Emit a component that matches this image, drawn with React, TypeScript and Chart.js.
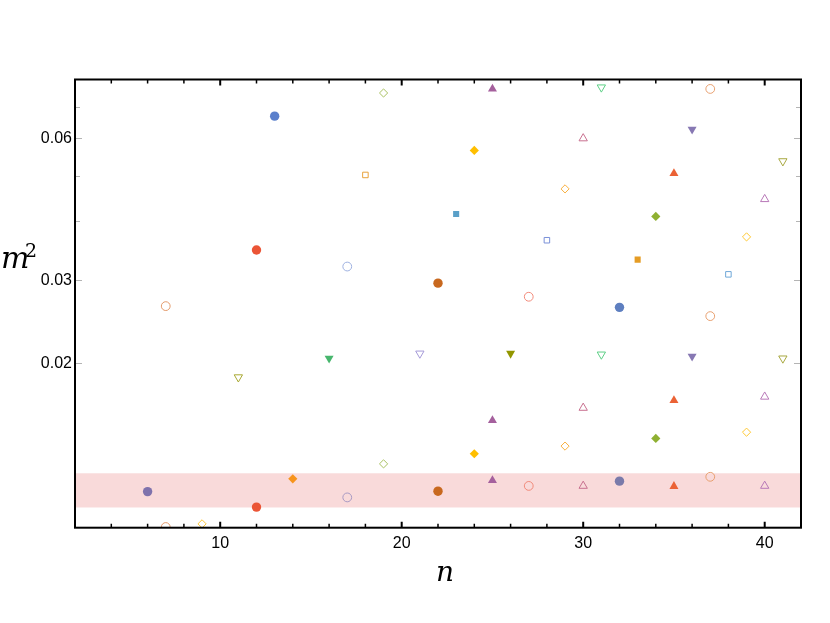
import React, { useEffect, useRef } from "react";
import { Chart, registerables } from "chart.js";

Chart.register(...registerables);

// ---- axes ----
const X_MIN = 2;
const X_MAX = 42;
const Y_MIN = 0.00897;
const Y_MAX = 0.08;
const X_MAJOR_TICKS = [10, 20, 30, 40];
const X_MINOR_TICKS = [4, 6, 8, 12, 14, 16, 18, 22, 24, 26, 28, 32, 34, 36, 38];
const Y_MAJOR_TICKS = [0.02, 0.03, 0.06];
const Y_MINOR_TICKS = [0.04, 0.05, 0.07];
const BAND_LOW = 0.0099;
const BAND_HIGH = 0.0117;
const X_TITLE = "n";
const Y_TITLE = "m";
const Y_TITLE_SUP = "2";

// ---- data (n, m^2) grouped by marker ----
const nFilledCircle = [6, 12, 12, 13, 22, 22, 32, 32];
const m2FilledCircle = [0.0107, 0.0348, 0.00992, 0.0669, 0.0296, 0.01072, 0.0263, 0.01126];

const nFilledSquare = [23, 33];
const m2FilledSquare = [0.0415, 0.0332];

const nFilledDiamond = [14, 24, 24, 34, 34];
const m2FilledDiamond = [0.01139, 0.0566, 0.01287, 0.041, 0.01387];

const nFilledTriangle = [25, 25, 25, 35, 35, 35];
const m2FilledTriangle = [0.0764, 0.01514, 0.0113, 0.0506, 0.0167, 0.01098];

const nFilledDown = [16, 26, 36, 36];
const m2FilledDown = [0.0205, 0.021, 0.0627, 0.0207];

const nOpenCircle = [7, 7, 17, 17, 27, 27, 37, 37, 37];
const m2OpenCircle = [0.02646, 0.009, 0.0321, 0.0104, 0.0277, 0.011, 0.0764, 0.0252, 0.0115];

const nOpenSquare = [18, 28, 38];
const m2OpenSquare = [0.0502, 0.0365, 0.0309];

const nOpenDiamond = [9, 19, 19, 29, 29, 39, 39];
const m2OpenDiamond = [0.00914, 0.0749, 0.01225, 0.0469, 0.01336, 0.0371, 0.0143];

const nOpenTriangle = [30, 30, 30, 40, 40, 40];
const m2OpenTriangle = [0.06, 0.0161, 0.011, 0.0446, 0.017, 0.011];

const nOpenDown = [11, 21, 31, 31, 41, 41];
const m2OpenDown = [0.0187, 0.021, 0.077, 0.0209, 0.0537, 0.0205];

// ---- styles ----
const colFilledCircle = ["#7f72ac", "#eb5536", "#eb5536", "#5b80cc", "#c8681e", "#c8681e", "#5e7fc0", "#7a7aaa"];
const colFilledSquare = ["#5aa0c8", "#e59c24"];
const colFilledDiamond = ["#f7941d", "#ffbf00", "#ffbf00", "#8fb032", "#8fb032"];
const colFilledTriangle = ["#a5609d", "#a5609d", "#a5609d", "#eb6235", "#eb6235", "#eb6235"];
const colFilledDown = ["#47b66d", "#929600", "#8778b3", "#8778b3"];
const colOpenCircle = ["#e39a6b", "#e39a6b", "#9db0e0", "#a89ac4", "#f28a7a", "#f28a7a", "#e8a070", "#e8a070", "#e8a070"];
const colOpenSquare = ["#e8a23c", "#7a90d8", "#70a8d8"];
const colOpenDiamond = ["#fcc73a", "#a8c060", "#a8c060", "#f8b040", "#f8b040", "#ffc830", "#ffc830"];
const colOpenTriangle = ["#c8708f", "#c8708f", "#c8708f", "#b878b8", "#b878b8", "#b878b8"];
const colOpenDown = ["#a8a832", "#a59ad8", "#5ccf85", "#5ccf85", "#a8a840", "#a8a840"];

const BAND_COLOR = "#f9dada";
const TICK_FONT = '"Liberation Sans", Arial, sans-serif';

function makeSet(
  label: string,
  ns: number[],
  ms: number[],
  colors: string[],
  style: string,
  rotation: number,
  filled: boolean,
  radius: number
) {
  return {
    label,
    data: ns.map((n, i) => ({ x: n, y: ms[i] })),
    pointStyle: style,
    pointRotation: rotation,
    pointRadius: radius,
    pointHoverRadius: radius,
    pointBackgroundColor: filled ? colors : "rgba(0,0,0,0)",
    pointBorderColor: colors,
    pointBorderWidth: filled ? 0 : 1,
    showLine: false,
  };
}

const framePlugin = {
  id: "frame",
  beforeDatasetsDraw(chart: any) {
    const { ctx, chartArea: a, scales } = chart;
    const y1 = scales.y.getPixelForValue(BAND_HIGH);
    const y2 = scales.y.getPixelForValue(BAND_LOW);
    ctx.save();
    ctx.fillStyle = BAND_COLOR;
    ctx.fillRect(a.left, y1, a.right - a.left, y2 - y1);
    ctx.restore();
  },
  afterDraw(chart: any) {
    const { ctx, chartArea: a, scales } = chart;
    const xs = scales.x;
    const ys = scales.y;
    ctx.save();
    // y ticks (gray, inward, both sides)
    ctx.strokeStyle = "#b4b4b4";
    ctx.lineWidth = 1;
    const yt = (vals: number[], len: number) => {
      vals.forEach((v) => {
        const p = Math.round(ys.getPixelForValue(v)) + 0.5;
        ctx.beginPath();
        ctx.moveTo(a.left, p);
        ctx.lineTo(a.left + len, p);
        ctx.moveTo(a.right, p);
        ctx.lineTo(a.right - len, p);
        ctx.stroke();
      });
    };
    yt(Y_MAJOR_TICKS, 7);
    yt(Y_MINOR_TICKS, 5);
    // x ticks (black, inward, top and bottom)
    ctx.strokeStyle = "#000";
    const xt = (vals: number[], len: number, w: number) => {
      ctx.lineWidth = w;
      vals.forEach((v) => {
        const p = xs.getPixelForValue(v);
        ctx.beginPath();
        ctx.moveTo(p, a.bottom);
        ctx.lineTo(p, a.bottom - len);
        ctx.moveTo(p, a.top);
        ctx.lineTo(p, a.top + len);
        ctx.stroke();
      });
    };
    xt(X_MAJOR_TICKS, 6, 2);
    xt(X_MINOR_TICKS, 4, 1.5);
    // frame
    ctx.lineWidth = 2;
    ctx.strokeStyle = "#000";
    ctx.strokeRect(a.left, a.top, a.right - a.left, a.bottom - a.top);
    // axis titles
    ctx.fillStyle = "#000";
    ctx.textBaseline = "alphabetic";
    ctx.font = 'italic 28px "DejaVu Serif", serif';
    ctx.textAlign = "center";
    ctx.fillText(X_TITLE, (a.left + a.right) / 2 + 7, 581);
    ctx.textAlign = "left";
    ctx.font = 'italic 30px "DejaVu Serif", serif';
    ctx.fillText(Y_TITLE, 1, 268);
    ctx.font = '19px "DejaVu Serif", serif';
    ctx.fillText(Y_TITLE_SUP, 25, 257);
    ctx.restore();
  },
};

export default function App() {
  const ref = useRef<HTMLCanvasElement | null>(null);
  useEffect(() => {
    if (!ref.current) return;
    const chart = new Chart(ref.current, {
      type: "scatter",
      data: {
        datasets: [
          makeSet("filled circle", nFilledCircle, m2FilledCircle, colFilledCircle, "circle", 0, true, 4.7),
          makeSet("filled square", nFilledSquare, m2FilledSquare, colFilledSquare, "rect", 0, true, 4.3),
          makeSet("filled diamond", nFilledDiamond, m2FilledDiamond, colFilledDiamond, "rectRot", 0, true, 4.6),
          makeSet("filled triangle", nFilledTriangle, m2FilledTriangle, colFilledTriangle, "triangle", 0, true, 5.2),
          makeSet("filled down", nFilledDown, m2FilledDown, colFilledDown, "triangle", 180, true, 5.2),
          makeSet("open circle", nOpenCircle, m2OpenCircle, colOpenCircle, "circle", 0, false, 4.4),
          makeSet("open square", nOpenSquare, m2OpenSquare, colOpenSquare, "rect", 0, false, 3.9),
          makeSet("open diamond", nOpenDiamond, m2OpenDiamond, colOpenDiamond, "rectRot", 0, false, 4.1),
          makeSet("open triangle", nOpenTriangle, m2OpenTriangle, colOpenTriangle, "triangle", 0, false, 4.8),
          makeSet("open down", nOpenDown, m2OpenDown, colOpenDown, "triangle", 180, false, 4.8),
        ] as any,
      },
      options: {
        animation: false,
        responsive: true,
        maintainAspectRatio: false,
        layout: { padding: { top: 79.5, right: 29, left: 0, bottom: 0 } },
        plugins: {
          legend: { display: false },
          tooltip: { enabled: false },
        },
        scales: {
          x: {
            type: "linear",
            min: X_MIN,
            max: X_MAX,
            grid: { display: false, drawTicks: false },
            border: { display: false },
            afterBuildTicks: (s: any) => {
              s.ticks = X_MAJOR_TICKS.map((v) => ({ value: v }));
            },
            afterFit: (s: any) => {
              s.height = 95.3;
            },
            ticks: {
              autoSkip: false,
              maxRotation: 0,
              padding: 6,
              color: "#000",
              font: { family: TICK_FONT, size: 16 },
              callback: (v: any) => String(v),
            },
          },
          y: {
            type: "logarithmic",
            min: Y_MIN,
            max: Y_MAX,
            grid: { display: false, drawTicks: false },
            border: { display: false },
            afterBuildTicks: (s: any) => {
              s.ticks = Y_MAJOR_TICKS.map((v) => ({ value: v }));
            },
            afterFit: (s: any) => {
              s.width = 75;
            },
            ticks: {
              autoSkip: false,
              padding: 3,
              color: "#000",
              font: { family: TICK_FONT, size: 16 },
              callback: (v: any) => String(v),
            },
          },
        },
      } as any,
      plugins: [framePlugin],
    });
    return () => chart.destroy();
  }, []);
  return (
    <div style={{ position: "fixed", left: 0, top: 0, width: 830, height: 623, background: "#fff" }}>
      <canvas ref={ref} />
    </div>
  );
}
